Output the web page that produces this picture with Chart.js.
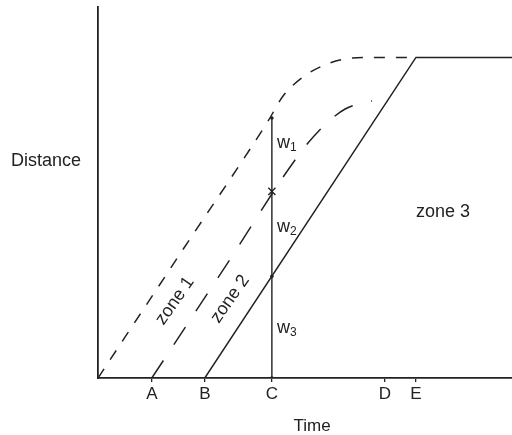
<!DOCTYPE html>
<html>
<head>
<meta charset="utf-8">
<script src="https://cdn.jsdelivr.net/npm/chart.js@4/dist/chart.umd.min.js"></script>
<style>
  html, body { margin: 0; padding: 0; background: #fff; }
  #wrap { width: 512px; height: 435px; }
</style>
</head>
<body>
<div id="wrap"><canvas id="c" width="512" height="435"></canvas></div>
<script>
// x-axis tick positions (time) and their labels
const tickValues = [13.0, 25.8, 42.0, 69.3, 76.8];
const tickLabels = ['A', 'B', 'C', 'D', 'E'];

// short-dashed boundary (outer edge of zone 1)
const outerTime = [0, 20.5, 41.1, 44.7, 49.5, 54.8, 59.7, 65.7, 76.8];
const outerDist = [0, 34.6, 69.3, 76.0, 81.1, 84.4, 86.0, 86.4, 86.4];

// long-dashed boundary (between zone 1 and zone 2)
const innerTime = [13.0, 30.9, 48.8, 54.3, 59.7, 66.2];
const innerDist = [0, 30.3, 60.6, 67.7, 72.5, 74.7];

// solid boundary (between zone 2 and zone 3)
const frontTime = [25.8, 76.8, 100];
const frontDist = [0, 86.4, 86.4];

// vertical measurement line at time C, with marks
const cTime = 42.0;
const cMarks = [0, 27.4, 70.1];
const cCross = [50.3];

const toPts = (xs, ys) => xs.map((v, i) => ({ x: v, y: ys[i] }));

const ink = '#222';
const FONT = '"Liberation Sans", Arial, Helvetica, sans-serif';

const annot = {
  id: 'annot',
  afterDraw(chart) {
    const { ctx, scales: { x, y } } = chart;
    const px = v => x.getPixelForValue(v);
    const py = v => y.getPixelForValue(v);
    ctx.save();
    ctx.fillStyle = ink;
    ctx.textBaseline = 'alphabetic';

    // Distance (y title, horizontal)
    ctx.font = '18px ' + FONT;
    ctx.textAlign = 'right';
    ctx.fillText('Distance', px(0) - 17, py(57.1));

    // Time (x title)
    ctx.font = '17px ' + FONT;
    ctx.textAlign = 'center';
    ctx.fillText('Time', px(51.7), py(-14.3));

    // zone 3
    ctx.font = '18px ' + FONT;
    ctx.textAlign = 'left';
    ctx.fillText('zone 3', px(76.8), py(43.4));

    // rotated zone 1 / zone 2
    [['zone 1', 18.6, 20.8], ['zone 2', 31.9, 21.3]].forEach(([t, tx, ty]) => {
      ctx.save();
      ctx.translate(px(tx), py(ty));
      ctx.rotate(-55 * Math.PI / 180);
      ctx.textAlign = 'center';
      ctx.textBaseline = 'middle';
      ctx.fillText(t, 0, 0);
      ctx.restore();
    });

    // w1, w2, w3
    [['1', 62.0], ['2', 39.4], ['3', 12.1]].forEach(([s, d]) => {
      const lx = px(cTime) + 5, ly = py(d);
      ctx.font = '18px ' + FONT;
      ctx.textAlign = 'left';
      ctx.fillText('w', lx, ly);
      const w = ctx.measureText('w').width;
      ctx.font = '12px ' + FONT;
      ctx.fillText(s, lx + w, ly + 3);
    });
    ctx.restore();
  }
};

new Chart(document.getElementById('c'), {
  type: 'scatter',
  data: {
    datasets: [
      {
        data: toPts(outerTime, outerDist),
        showLine: true, borderColor: ink, borderWidth: 1.5,
        borderDash: [11, 11], cubicInterpolationMode: 'monotone',
        pointRadius: 0
      },
      {
        data: toPts(innerTime, innerDist),
        showLine: true, borderColor: ink, borderWidth: 1.5,
        borderDash: [21, 19], cubicInterpolationMode: 'monotone',
        pointRadius: 0
      },
      {
        data: toPts(frontTime, frontDist),
        showLine: true, borderColor: ink, borderWidth: 1.5,
        pointRadius: 0
      },
      {
        data: cMarks.map(v => ({ x: cTime, y: v })),
        showLine: true, borderColor: ink, borderWidth: 1.4,
        pointRadius: 1.8, pointBackgroundColor: ink, pointBorderWidth: 0
      },
      {
        data: cCross.map(v => ({ x: cTime, y: v })),
        showLine: false, pointStyle: 'crossRot', pointRadius: 5,
        borderColor: ink, pointBorderWidth: 1.4
      }
    ]
  },
  options: {
    responsive: false,
    animation: false,
    events: [],
    layout: { autoPadding: false, padding: { top: 7, right: 0, bottom: 0, left: 0 } },
    plugins: { legend: { display: false }, tooltip: { enabled: false } },
    scales: {
      x: {
        type: 'linear', min: 0, max: 100,
        afterBuildTicks: s => { s.ticks = tickValues.map(v => ({ value: v })); },
        afterFit: s => { s.height = 57; },
        ticks: {
          autoSkip: false, maxRotation: 0, padding: 2,
          color: ink, font: { family: FONT, size: 17 },
          callback: (v, i) => tickLabels[i]
        },
        grid: { drawOnChartArea: false, drawTicks: true, tickLength: 4, color: ink, lineWidth: 1.3 },
        border: { display: true, color: ink, width: 1.8 }
      },
      y: {
        type: 'linear', min: 0, max: 100,
        afterFit: s => { s.width = 98; },
        ticks: { display: false },
        grid: { display: false, drawTicks: false },
        border: { display: true, color: ink, width: 1.8 }
      }
    }
  },
  plugins: [annot]
});
</script>
</body>
</html>
